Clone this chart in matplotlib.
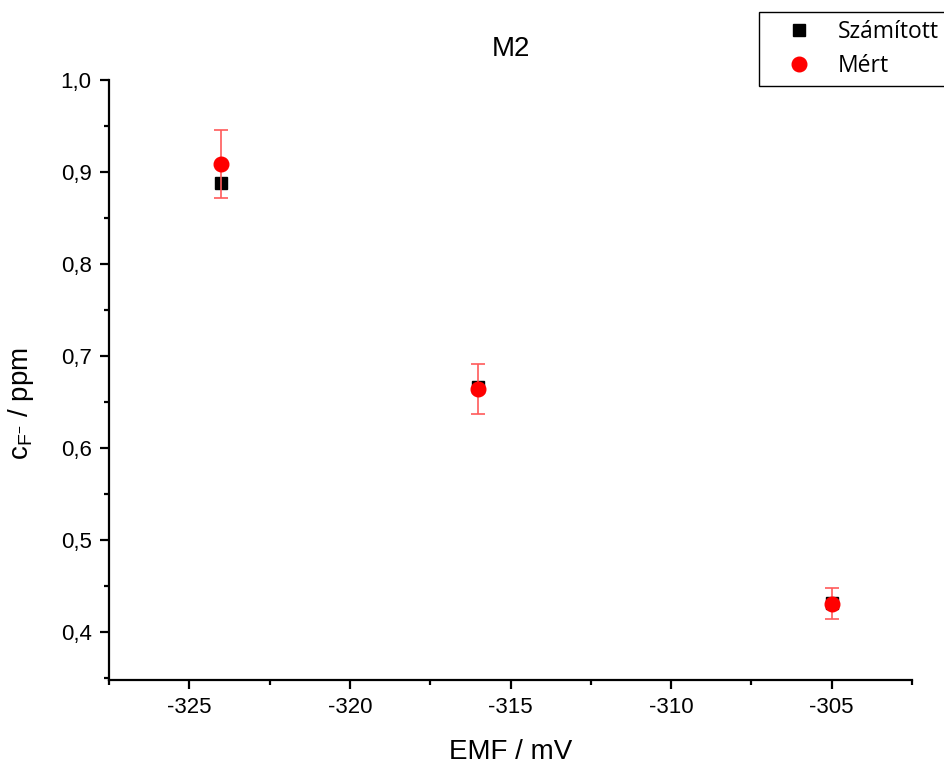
import matplotlib
matplotlib.use("Agg")
import matplotlib.pyplot as plt
from matplotlib.ticker import MultipleLocator, FuncFormatter

# EMF readings (mV) and fluoride concentrations (ppm)
emf = [-324, -316, -305]
calc_conc = [0.888, 0.666, 0.432]      # Számított
meas_conc = [0.909, 0.664, 0.431]      # Mért
meas_err = [0.037, 0.027, 0.017]

title = "M2"
xlabel = "EMF / mV"
ylabel = r"c$_{\mathregular{F^{-}}}$ / ppm"
legend_labels = ["Számított", "Mért"]

plt.rcParams["font.family"] = ["Liberation Sans", "DejaVu Sans"]

fig = plt.figure(figsize=(9.44, 7.65), dpi=100)
ax = fig.add_axes([109 / 944, 1 - 680 / 765, (912 - 109) / 944, (680 - 80) / 765])

sq, = ax.plot(emf, calc_conc, linestyle="none", marker="s", markersize=8.5,
              color="black", zorder=3)
ax.errorbar(emf, meas_conc, yerr=meas_err, fmt="none", ecolor="#ff5a5a",
            elinewidth=1.2, capsize=5, capthick=1.2, zorder=4)
ci, = ax.plot(emf, meas_conc, linestyle="none", marker="o", markersize=10.5,
              color="#ff0000", zorder=5)

ax.set_xlim(-327.5, -302.5)
ax.set_ylim(0.348, 1.0)

ax.xaxis.set_major_locator(MultipleLocator(5))
ax.xaxis.set_minor_locator(MultipleLocator(2.5))
ax.yaxis.set_major_locator(MultipleLocator(0.1))
ax.yaxis.set_minor_locator(MultipleLocator(0.05))
ax.xaxis.set_major_formatter(FuncFormatter(lambda v, p: f"{v:.0f}"))
ax.yaxis.set_major_formatter(FuncFormatter(lambda v, p: f"{v:.1f}".replace(".", ",")))

for side in ("top", "right"):
    ax.spines[side].set_visible(False)
for side in ("left", "bottom"):
    ax.spines[side].set_linewidth(1.6)

ax.tick_params(which="major", direction="out", length=6.5, width=1.6,
               labelsize=16, pad=6)
ax.tick_params(which="minor", direction="out", length=3.5, width=1.6)

ax.set_xlabel(xlabel, fontsize=20, labelpad=15)
ax.set_ylabel(ylabel, fontsize=20)
ax.yaxis.set_label_coords(-0.091, 0.46)
ax.set_title(title, fontsize=20, pad=17)

fs = 16.5
leg = fig.legend([sq, ci], legend_labels, loc="upper left",
                 bbox_to_anchor=(759 / 944, 1 - 12 / 765), borderaxespad=0,
                 frameon=True, fancybox=False, edgecolor="black",
                 framealpha=1, borderpad=0.35, handletextpad=0.3,
                 labelspacing=0.45, handlelength=2.8,
                 prop={"family": "Open Sans", "size": fs})
leg.get_frame().set_linewidth(1.0)

fig.savefig("out.png", dpi=100)
